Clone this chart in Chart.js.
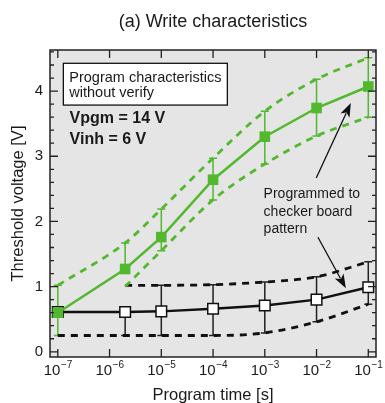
<!DOCTYPE html>
<html>
<head>
<meta charset="utf-8">
<script src="https://cdn.jsdelivr.net/npm/chart.js@4.4.1/dist/chart.umd.min.js"></script>
<style>
  html, body { margin: 0; padding: 0; background: #fff; }
</style>
</head>
<body>
<canvas id="chart" width="385" height="403"></canvas>
<script>
// Program time [s] of each measured point
const progTime = [1e-7, 2e-6, 1e-5, 1e-4, 1e-3, 1e-2, 1e-1];

// Programmed cells (green): mean Vth, error bar ends, dashed envelope
const vtProg      = [0.60, 1.27, 1.76, 2.64, 3.30, 3.74, 4.07];
const vtProgHi    = [1.02, 1.67, 2.19, 2.97, 3.69, 4.18, 4.51];
const vtProgBarLo = [0.25, null, 1.55, 2.33, 2.88, 3.31, 3.60];
const vtProgEnvLo = [null, 1.00, 1.55, 2.33, 2.88, 3.31, 3.60];

// Checker board neighbours (black): mean Vth, error bar ends, dashed envelope
const vtInh      = [0.61, 0.61, 0.62, 0.66, 0.71, 0.80, 0.99];
const vtInhBarHi = [null, null, 1.02, 1.03, 1.07, 1.15, 1.38];
const vtInhEnvHi = [null, 1.02, 1.02, 1.03, 1.07, 1.15, 1.38];
const vtInhLo    = [0.25, 0.25, 0.25, 0.25, 0.29, 0.46, 0.73];

// Axis ticks
const xTickExp = [-7, -6, -5, -4, -3, -2, -1];
const yTicks = [0, 1, 2, 3, 4];

const GREEN = '#52b82e';
const FONT = '"Liberation Sans", Arial, sans-serif';

function pts(ys) {
    const out = [];
    ys.forEach((y, i) => { if (y !== null) out.push({ x: progTime[i], y: y }); });
    return out;
}

// annotations, placed in data coordinates (time [s], Vth [V])
const noteBox = { t0: 1.28e-7, t1: 1.89e-4, v0: 3.785, v1: 4.426 };
const notes = [
    { text: 'Program characteristics', t: 1.667e-7, v: 4.144, font: '14.5px ' + FONT },
    { text: 'without verify', t: 1.667e-7, v: 3.914, font: '14.5px ' + FONT },
    { text: 'Vpgm = 14 V', t: 1.69e-7, v: 3.506, font: 'bold 16px ' + FONT },
    { text: 'Vinh = 6 V', t: 1.69e-7, v: 3.183, font: 'bold 16px ' + FONT },
    { text: 'Programmed to', t: 9.48e-4, v: 2.355, font: '14px ' + FONT },
    { text: 'checker board', t: 9.48e-4, v: 2.083, font: '14px ' + FONT },
    { text: 'pattern', t: 9.48e-4, v: 1.827, font: '14px ' + FONT }
];
const arrows = [
    { from: [0.00986, 2.667], to: [0.046, 3.817] },
    { from: [0.01064, 1.757], to: [0.0369, 0.974] }
];

const decor = {
    id: 'decor',
    beforeDraw(chart) {
        const { ctx, chartArea: a } = chart;
        ctx.save();
        ctx.fillStyle = '#e5e5e5';
        ctx.fillRect(a.left, a.top, a.right - a.left, a.bottom - a.top);
        ctx.restore();
    },
    beforeDatasetsDraw(chart) {
        const { ctx } = chart;
        const xs = chart.scales.x, ys = chart.scales.y;
        const bar = (t, lo, hi, color) => {
            const x = xs.getPixelForValue(t);
            const y1 = ys.getPixelForValue(lo), y2 = ys.getPixelForValue(hi);
            ctx.beginPath();
            ctx.moveTo(x, y1); ctx.lineTo(x, y2);
            ctx.moveTo(x - 4, y1); ctx.lineTo(x + 4, y1);
            ctx.moveTo(x - 4, y2); ctx.lineTo(x + 4, y2);
            ctx.strokeStyle = color;
            ctx.lineWidth = 1.5;
            ctx.stroke();
        };
        ctx.save();
        progTime.forEach((t, i) => {
            const lo = vtInhLo[i];
            const hi = vtInhBarHi[i] !== null ? vtInhBarHi[i] : vtInh[i];
            if (vtInhBarHi[i] !== null || i > 0) bar(t, lo, hi, '#222');
        });
        progTime.forEach((t, i) => {
            const lo = vtProgBarLo[i] !== null ? vtProgBarLo[i] : vtProg[i];
            bar(t, lo, vtProgHi[i], GREEN);
        });
        ctx.restore();
    },
    afterDatasetsDraw(chart) {
        const { ctx, chartArea: a } = chart;
        const xs = chart.scales.x, ys = chart.scales.y;
        ctx.save();
        // frame
        ctx.strokeStyle = '#222';
        ctx.lineWidth = 1.5;
        ctx.strokeRect(a.left, a.top, a.right - a.left, a.bottom - a.top);
        // ticks pointing inwards
        ctx.lineWidth = 1.3;
        ctx.beginPath();
        for (let k = 0; k <= 23; k++) {
            const v = k * 0.2;
            const y = ys.getPixelForValue(v);
            const len = k % 5 === 0 ? 8 : 4;
            ctx.moveTo(a.left, y); ctx.lineTo(a.left + len, y);
            ctx.moveTo(a.right, y); ctx.lineTo(a.right - len, y);
        }
        xTickExp.forEach(e => {
            const x = xs.getPixelForValue(Math.pow(10, e));
            ctx.moveTo(x, a.bottom); ctx.lineTo(x, a.bottom - 8);
            ctx.moveTo(x, a.top); ctx.lineTo(x, a.top + 8);
        });
        ctx.stroke();

        // text box
        const bx0 = xs.getPixelForValue(noteBox.t0), bx1 = xs.getPixelForValue(noteBox.t1);
        const by0 = ys.getPixelForValue(noteBox.v1), by1 = ys.getPixelForValue(noteBox.v0);
        ctx.fillStyle = '#fff';
        ctx.fillRect(bx0, by0, bx1 - bx0, by1 - by0);
        ctx.strokeStyle = '#111';
        ctx.lineWidth = 1.3;
        ctx.strokeRect(bx0, by0, bx1 - bx0, by1 - by0);

        ctx.fillStyle = '#1a1a1a';
        ctx.textBaseline = 'alphabetic';
        ctx.textAlign = 'left';
        notes.forEach(n => {
            ctx.font = n.font;
            ctx.fillText(n.text, xs.getPixelForValue(n.t), ys.getPixelForValue(n.v));
        });

        // arrows
        arrows.forEach(ar => {
            const x1 = xs.getPixelForValue(ar.from[0]), y1 = ys.getPixelForValue(ar.from[1]);
            const x2 = xs.getPixelForValue(ar.to[0]), y2 = ys.getPixelForValue(ar.to[1]);
            const ang = Math.atan2(y2 - y1, x2 - x1);
            const hl = 14, hw = 5;
            ctx.strokeStyle = '#111';
            ctx.lineWidth = 1.3;
            ctx.beginPath();
            ctx.moveTo(x1, y1);
            ctx.lineTo(x2 - hl * 0.8 * Math.cos(ang), y2 - hl * 0.8 * Math.sin(ang));
            ctx.stroke();
            ctx.fillStyle = '#111';
            ctx.beginPath();
            ctx.moveTo(x2, y2);
            ctx.lineTo(x2 - hl * Math.cos(ang) + hw * Math.sin(ang), y2 - hl * Math.sin(ang) - hw * Math.cos(ang));
            ctx.lineTo(x2 - hl * 0.75 * Math.cos(ang), y2 - hl * 0.75 * Math.sin(ang));
            ctx.lineTo(x2 - hl * Math.cos(ang) - hw * Math.sin(ang), y2 - hl * Math.sin(ang) + hw * Math.cos(ang));
            ctx.closePath();
            ctx.fill();
        });
        ctx.restore();
    },
    afterDraw(chart) {
        const { ctx, chartArea: a } = chart;
        const xs = chart.scales.x;
        ctx.save();
        ctx.fillStyle = '#1a1a1a';
        ctx.textBaseline = 'alphabetic';
        // x tick labels 10^n
        xTickExp.forEach(e => {
            const x = xs.getPixelForValue(Math.pow(10, e));
            ctx.font = '15px ' + FONT;
            const base = '10';
            const w1 = ctx.measureText(base).width;
            ctx.font = '10px ' + FONT;
            const sup = '\u2212' + Math.abs(e);
            const w2 = ctx.measureText(sup).width;
            const x0 = x - (w1 + w2) / 2;
            ctx.textAlign = 'left';
            ctx.font = '15px ' + FONT;
            ctx.fillText(base, x0, 375);
            ctx.font = '10px ' + FONT;
            ctx.fillText(sup, x0 + w1 + 0.5, 368);
        });
        // axis titles and chart title
        const cx = (a.left + a.right) / 2;
        ctx.textAlign = 'center';
        ctx.font = '16.5px ' + FONT;
        ctx.fillText('Program time [s]', cx, 400);
        ctx.save();
        ctx.translate(23, (a.top + a.bottom) / 2);
        ctx.rotate(-Math.PI / 2);
        ctx.fillText('Threshold voltage [V]', 0, 0);
        ctx.restore();
        ctx.font = '18px ' + FONT;
        ctx.fillText('(a) Write characteristics', cx, 27);
        ctx.restore();
    }
};

const envStyle = (color) => ({
    borderColor: color,
    borderWidth: 2.8,
    borderDash: [7, 6],
    pointRadius: 0,
    cubicInterpolationMode: 'monotone',
    fill: false,
    order: 2
});

new Chart(document.getElementById('chart').getContext('2d'), {
    type: 'line',
    data: {
        datasets: [
            {
                data: pts(vtProg),
                borderColor: GREEN,
                borderWidth: 2.5,
                pointStyle: 'rect',
                pointRadius: 7.5,
                pointBackgroundColor: GREEN,
                pointBorderColor: GREEN,
                pointBorderWidth: 0,
                order: 0
            },
            {
                data: pts(vtInh),
                borderColor: '#111',
                borderWidth: 2.5,
                pointStyle: 'rect',
                pointRadius: 7.5,
                pointBackgroundColor: '#fff',
                pointBorderColor: '#111',
                pointBorderWidth: 1.5,
                order: 1
            },
            Object.assign({ data: pts(vtProgHi) }, envStyle(GREEN)),
            Object.assign({ data: pts(vtProgEnvLo) }, envStyle(GREEN)),
            Object.assign({ data: pts(vtInhEnvHi) }, envStyle('#111')),
            Object.assign({ data: pts(vtInhLo) }, envStyle('#111'))
        ]
    },
    options: {
        responsive: false,
        animation: false,
        devicePixelRatio: 1,
        layout: { padding: { top: 50, right: 5, left: 0, bottom: 0 } },
        plugins: {
            legend: { display: false },
            tooltip: { enabled: false },
            title: { display: false }
        },
        scales: {
            x: {
                type: 'logarithmic',
                min: Math.pow(10, -7.151),
                max: Math.pow(10, -0.851),
                grid: { display: false },
                border: { display: false },
                ticks: { display: false },
                afterFit(scale) { scale.height = 46; }
            },
            y: {
                type: 'linear',
                min: -0.08,
                max: 4.63,
                grid: { display: false, drawTicks: false },
                border: { display: false },
                ticks: {
                    stepSize: 1,
                    includeBounds: false,
                    padding: 7,
                    color: '#1a1a1a',
                    font: { family: FONT, size: 15 },
                    callback: (v) => yTicks.includes(v) ? String(v) : ''
                },
                afterFit(scale) { scale.width = 50; }
            }
        }
    },
    plugins: [decor]
});
</script>
</body>
</html>
